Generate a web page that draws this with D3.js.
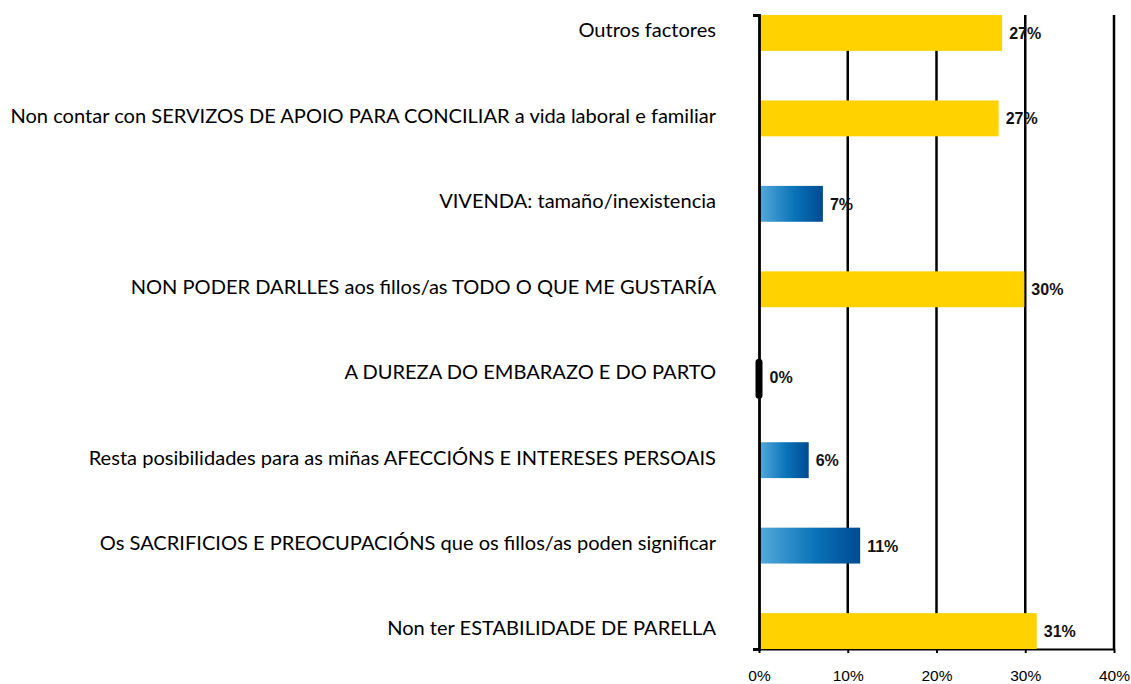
<!DOCTYPE html>
<html><head><meta charset="utf-8">
<script src="https://cdn.jsdelivr.net/npm/d3@7"></script>
<style>
html,body{margin:0;padding:0;background:#fff;}
svg{display:block;}
</style></head>
<body>
<svg id="chart" width="1131" height="684"></svg>
<script>
const categories = [
  "Outros factores",
  "Non contar con SERVIZOS DE APOIO PARA CONCILIAR a vida laboral e familiar",
  "VIVENDA: tamaño/inexistencia",
  "NON PODER DARLLES aos fillos/as TODO O QUE ME GUSTARÍA",
  "A DUREZA DO EMBARAZO E DO PARTO",
  "Resta posibilidades para as miñas AFECCIÓNS E INTERESES PERSOAIS",
  "Os SACRIFICIOS E PREOCUPACIÓNS que os fillos/as poden significar",
  "Non ter ESTABILIDADE DE PARELLA"
];
const values = [27.4, 27.0, 7.2, 29.9, 0, 5.6, 11.4, 31.3];
const groups = ["amarelo","amarelo","azul","amarelo","cero","azul","azul","amarelo"];
const xTicks = [0, 10, 20, 30, 40];

const svg = d3.select("#chart");
const m = {left: 759, right: 1114, top: 15, bottom: 649};

const x = d3.scaleLinear().domain([0, 40]).range([m.left, m.right]);
const y = d3.scaleBand().domain(categories).range([m.top, m.bottom]).paddingInner(0.58).paddingOuter(0.0);

const defs = svg.append("defs");
const grad = defs.append("linearGradient").attr("id", "blueGrad").attr("x1", "0").attr("x2", "1").attr("y1", "0").attr("y2", "0");
grad.append("stop").attr("offset", "0%").attr("stop-color", "#55aadc");
grad.append("stop").attr("offset", "55%").attr("stop-color", "#0a73b8");
grad.append("stop").attr("offset", "100%").attr("stop-color", "#004a92");

// gridlines
svg.append("g").selectAll("line").data(xTicks.slice(1)).join("line")
  .attr("x1", d => x(d)).attr("x2", d => x(d))
  .attr("y1", m.top).attr("y2", m.bottom)
  .attr("stroke", "#000").attr("stroke-width", 2.5);

// bottom axis
const xAxis = svg.append("g").attr("transform", `translate(0,${m.bottom})`)
  .call(d3.axisBottom(x).tickValues(xTicks).tickFormat(d => d + "%").tickSize(4).tickSizeOuter(0).tickPadding(17));
xAxis.select(".domain").attr("stroke", "#000").attr("stroke-width", 2);
xAxis.selectAll(".tick line").attr("stroke", "#000").attr("stroke-width", 2);
xAxis.selectAll("text").attr("font-family", "'Liberation Sans', Arial, sans-serif").attr("font-size", "15.5px").attr("fill", "#000");

// bars
const colorOf = {amarelo: "#ffd200", azul: "url(#blueGrad)"};
const bars = svg.append("g");
categories.forEach((c, i) => {
  const g = groups[i];
  if (g === "cero") {
    bars.append("rect")
      .attr("x", x(values[i]) - 3.5).attr("y", y(c) + 2)
      .attr("width", 7).attr("height", y.bandwidth() + 4)
      .attr("rx", 3.5).attr("fill", "#000");
  } else {
    bars.append("rect")
      .attr("x", x(0)).attr("y", y(c))
      .attr("width", x(values[i]) - x(0)).attr("height", y.bandwidth())
      .attr("fill", colorOf[g]);
  }
});

// left axis
const yAxis = svg.append("g").attr("transform", `translate(${m.left},0)`)
  .call(d3.axisLeft(y).tickSizeInner(0).tickSizeOuter(6).tickPadding(43));
yAxis.select(".domain").attr("stroke", "#000").attr("stroke-width", 2.8);
yAxis.selectAll("text").attr("font-family", "Lato, 'Noto Sans', sans-serif").attr("font-size", "19px").attr("fill", "#000").attr("dy", "0.22em");

// fit labels to the reference width
let maxW = 0;
yAxis.selectAll("text").each(function(){ maxW = Math.max(maxW, this.getComputedTextLength()); });
const fs = 19 * 706 / maxW;
yAxis.selectAll("text").attr("font-size", fs + "px");

// value labels
svg.append("g").selectAll("text").data(categories).join("text")
  .attr("x", (c, i) => (groups[i] === "cero" ? x(values[i]) + 3.5 : x(values[i])) + 7)
  .attr("y", c => y(c) + y.bandwidth() / 2 + 6 + (c === categories[4] ? 2 : 0))
  .attr("font-family", "'Liberation Sans', Arial, sans-serif")
  .attr("font-weight", "bold").attr("font-size", "16px").attr("fill", "#111")
  .text((c, i) => Math.round(values[i]) + "%");
</script>
</body></html>
